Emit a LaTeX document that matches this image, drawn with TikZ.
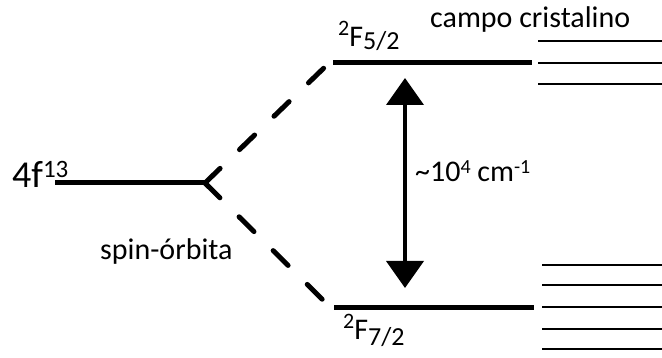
\documentclass[tikz,border=0pt]{standalone}
\usepackage{fontspec}
\setmainfont{Carlito}
\usetikzlibrary{arrows.meta}
\tikzset{
  level/.style={line width=5pt},
  split/.style={line width=5pt, dash pattern=on 21pt off 27pt, line cap=round},
  cfline/.style={line width=1.8pt},
  gap/.style={line width=4pt, {Triangle[length=27pt,width=37pt]}-{Triangle[length=27pt,width=37pt]}},
  lbl/.style={inner sep=0pt, anchor=base west, font=\fontsize{30}{36}\selectfont},
}
\newcommand\supnum[3]{\raisebox{#1}{\fontsize{#2}{#2}\selectfont #3}}
\begin{document}
\begin{tikzpicture}[x=1pt,y=-1pt]
\useasboundingbox (0,0) rectangle (662,358);
% level end points
\coordinate (g0) at (55,183);
\coordinate (v)  at (205,183);
\coordinate (u0) at (328,64);
\coordinate (u1) at (333,63);
\coordinate (u2) at (532,63);
\coordinate (d0) at (330,307);
\coordinate (d1) at (334,308);
\coordinate (d2) at (534,308);
% free ion level and spin-orbit splitting
\draw[level] (g0) -- (v);
\draw[split] (v) -- (u0);
\draw[split] (v) -- (d0);
\draw[level] (u1) -- (u2);
\draw[level] (d1) -- (d2);
% crystal field sublevels
\foreach \y [count=\i] in {41,63,84} {
  \coordinate (cu\i a) at (538,\y);
  \coordinate (cu\i b) at (662,\y);
  \draw[cfline] (cu\i a) -- (cu\i b);
}
\foreach \y [count=\i] in {265,285,307,329,349} {
  \coordinate (cd\i a) at (542,\y);
  \coordinate (cd\i b) at (662,\y);
  \draw[cfline] (cd\i a) -- (cd\i b);
}
% energy gap arrow
\coordinate (a1) at (405,78);
\coordinate (a2) at (405,288);
\draw[gap] (a1) -- (a2);
% labels
\node[lbl] (t4f) at (12,188) {\fontsize{38}{40}\selectfont 4f\supnum{10pt}{25}{13}};
\node[lbl] (tso) at (100,260) {spin-órbita};
\node[lbl] (tcc) at (430,28) {campo cristalino};
\node[lbl] (tgap) at (415,182) {\textasciitilde 10\supnum{8pt}{20}{4} cm\supnum{8pt}{20}{-1}};
\node[lbl] (tup) at (338,47) {\supnum{11pt}{22}{2}F\supnum{-3pt}{26}{5/2}};
\node[lbl] (tdn) at (343,340) {\supnum{11pt}{22}{2}F\supnum{-6pt}{26}{7/2}};
\end{tikzpicture}
\end{document}
